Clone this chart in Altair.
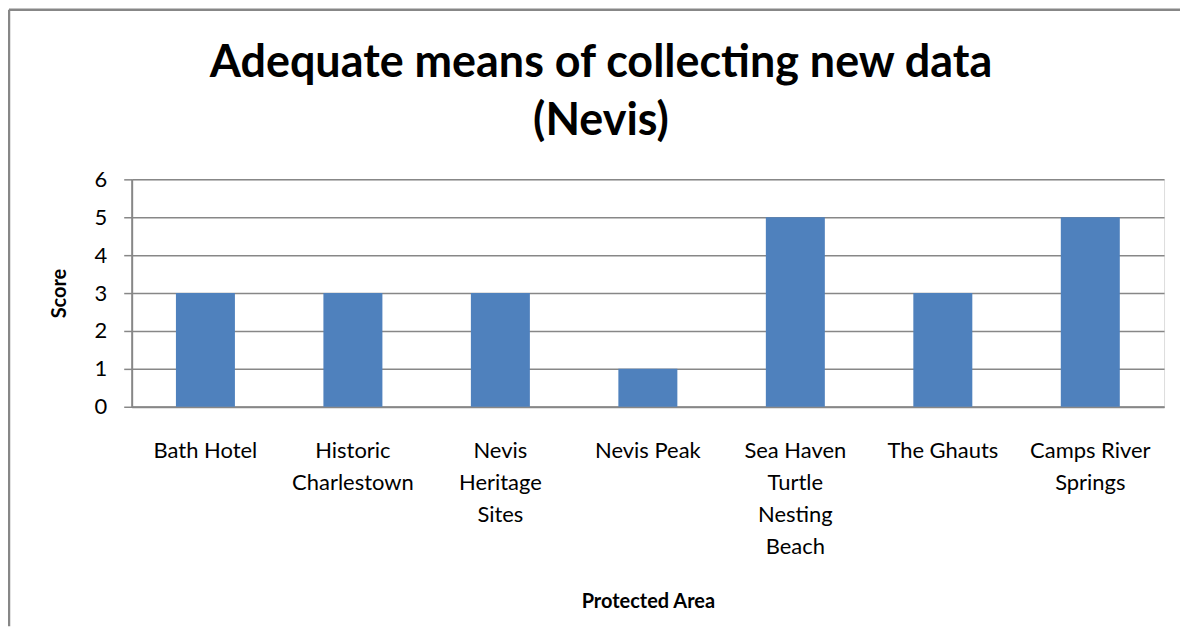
import altair as alt
import pandas as pd

areas = ["Bath Hotel", "Historic Charlestown", "Nevis Heritage Sites", "Nevis Peak",
         "Sea Haven Turtle Nesting Beach", "The Ghauts", "Camps River Springs"]
scores = [3, 3, 3, 1, 5, 3, 5]
wrapped = ["Bath Hotel", "Historic|Charlestown", "Nevis|Heritage|Sites", "Nevis Peak",
           "Sea Haven|Turtle|Nesting|Beach", "The Ghauts", "Camps River|Springs"]
y_ticks = [0, 1, 2, 3, 4, 5, 6]

df = pd.DataFrame({"area": areas, "score": scores})

W, H = 1035, 228
PL, PT, PR, PB = 124, 171, 16, 220
FONT = "Lato"
GRAY = "#878787"

arr_areas = "[" + ",".join("'" + a + "'" for a in areas) + "]"
arr_wrapped = "[" + ",".join("'" + a + "'" for a in wrapped) + "]"
label_expr = f"split({arr_wrapped}[indexof({arr_areas}, datum.value)], '|')"

bars = alt.Chart(df).mark_bar(color="#4F81BD").encode(
    x=alt.X("area:N", sort=areas,
            scale=alt.Scale(paddingInner=0.6, paddingOuter=0.3),
            axis=alt.Axis(title="Protected Area", labelAngle=0, labelExpr=label_expr,
                          labelFont=FONT, labelFontSize=22, labelLineHeight=32,
                          labelPadding=34, labelColor="black", ticks=False,
                          domainColor=GRAY, domainWidth=2,
                          titleFont=FONT, titleFontSize=20, titleFontWeight="bold",
                          titleColor="black", titleY=195, titleBaseline="middle")),
    y=alt.Y("score:Q", scale=alt.Scale(domain=[0, 6]),
            axis=alt.Axis(title="Score", values=y_ticks, grid=True, gridColor=GRAY,
                          gridWidth=1.5, tickColor=GRAY, tickSize=8, tickWidth=1.5,
                          domainColor=GRAY, domainWidth=2,
                          labelFont=FONT, labelFontSize=22, labelColor="black",
                          labelPadding=17,
                          titleFont=FONT, titleFontSize=20, titleFontWeight="bold",
                          titleColor="black", titleAngle=-90, titleX=-72, titleY=H / 2,
                          titleAlign="center", titleBaseline="middle")),
)

frame_df = pd.DataFrame({"k": [0]})
left_edge = alt.Chart(frame_df).mark_rule(color=GRAY, strokeWidth=2.5).encode(
    x=alt.value(-PL + 1), y=alt.value(-PT + 1), y2=alt.value(H + PB))
top_edge = alt.Chart(frame_df).mark_rule(color=GRAY, strokeWidth=2.5).encode(
    x=alt.value(-PL + 1), x2=alt.value(W + PR), y=alt.value(-PT + 1))

chart = alt.layer(bars, left_edge, top_edge).properties(
    width=W, height=H,
    autosize=alt.AutoSizeParams(type="none"),
    padding={"left": PL, "top": PT, "right": PR, "bottom": PB},
    title=alt.Title(["Adequate means of collecting new data", "(Nevis)"],
                    font=FONT, fontSize=45, fontWeight="bold", color="black",
                    lineHeight=58, anchor="middle", dx=-47, offset=30, dy=166),
).configure_view(stroke=None).configure(background="white")

chart.save("out.html", embed_options={"renderer": "svg", "actions": False})
